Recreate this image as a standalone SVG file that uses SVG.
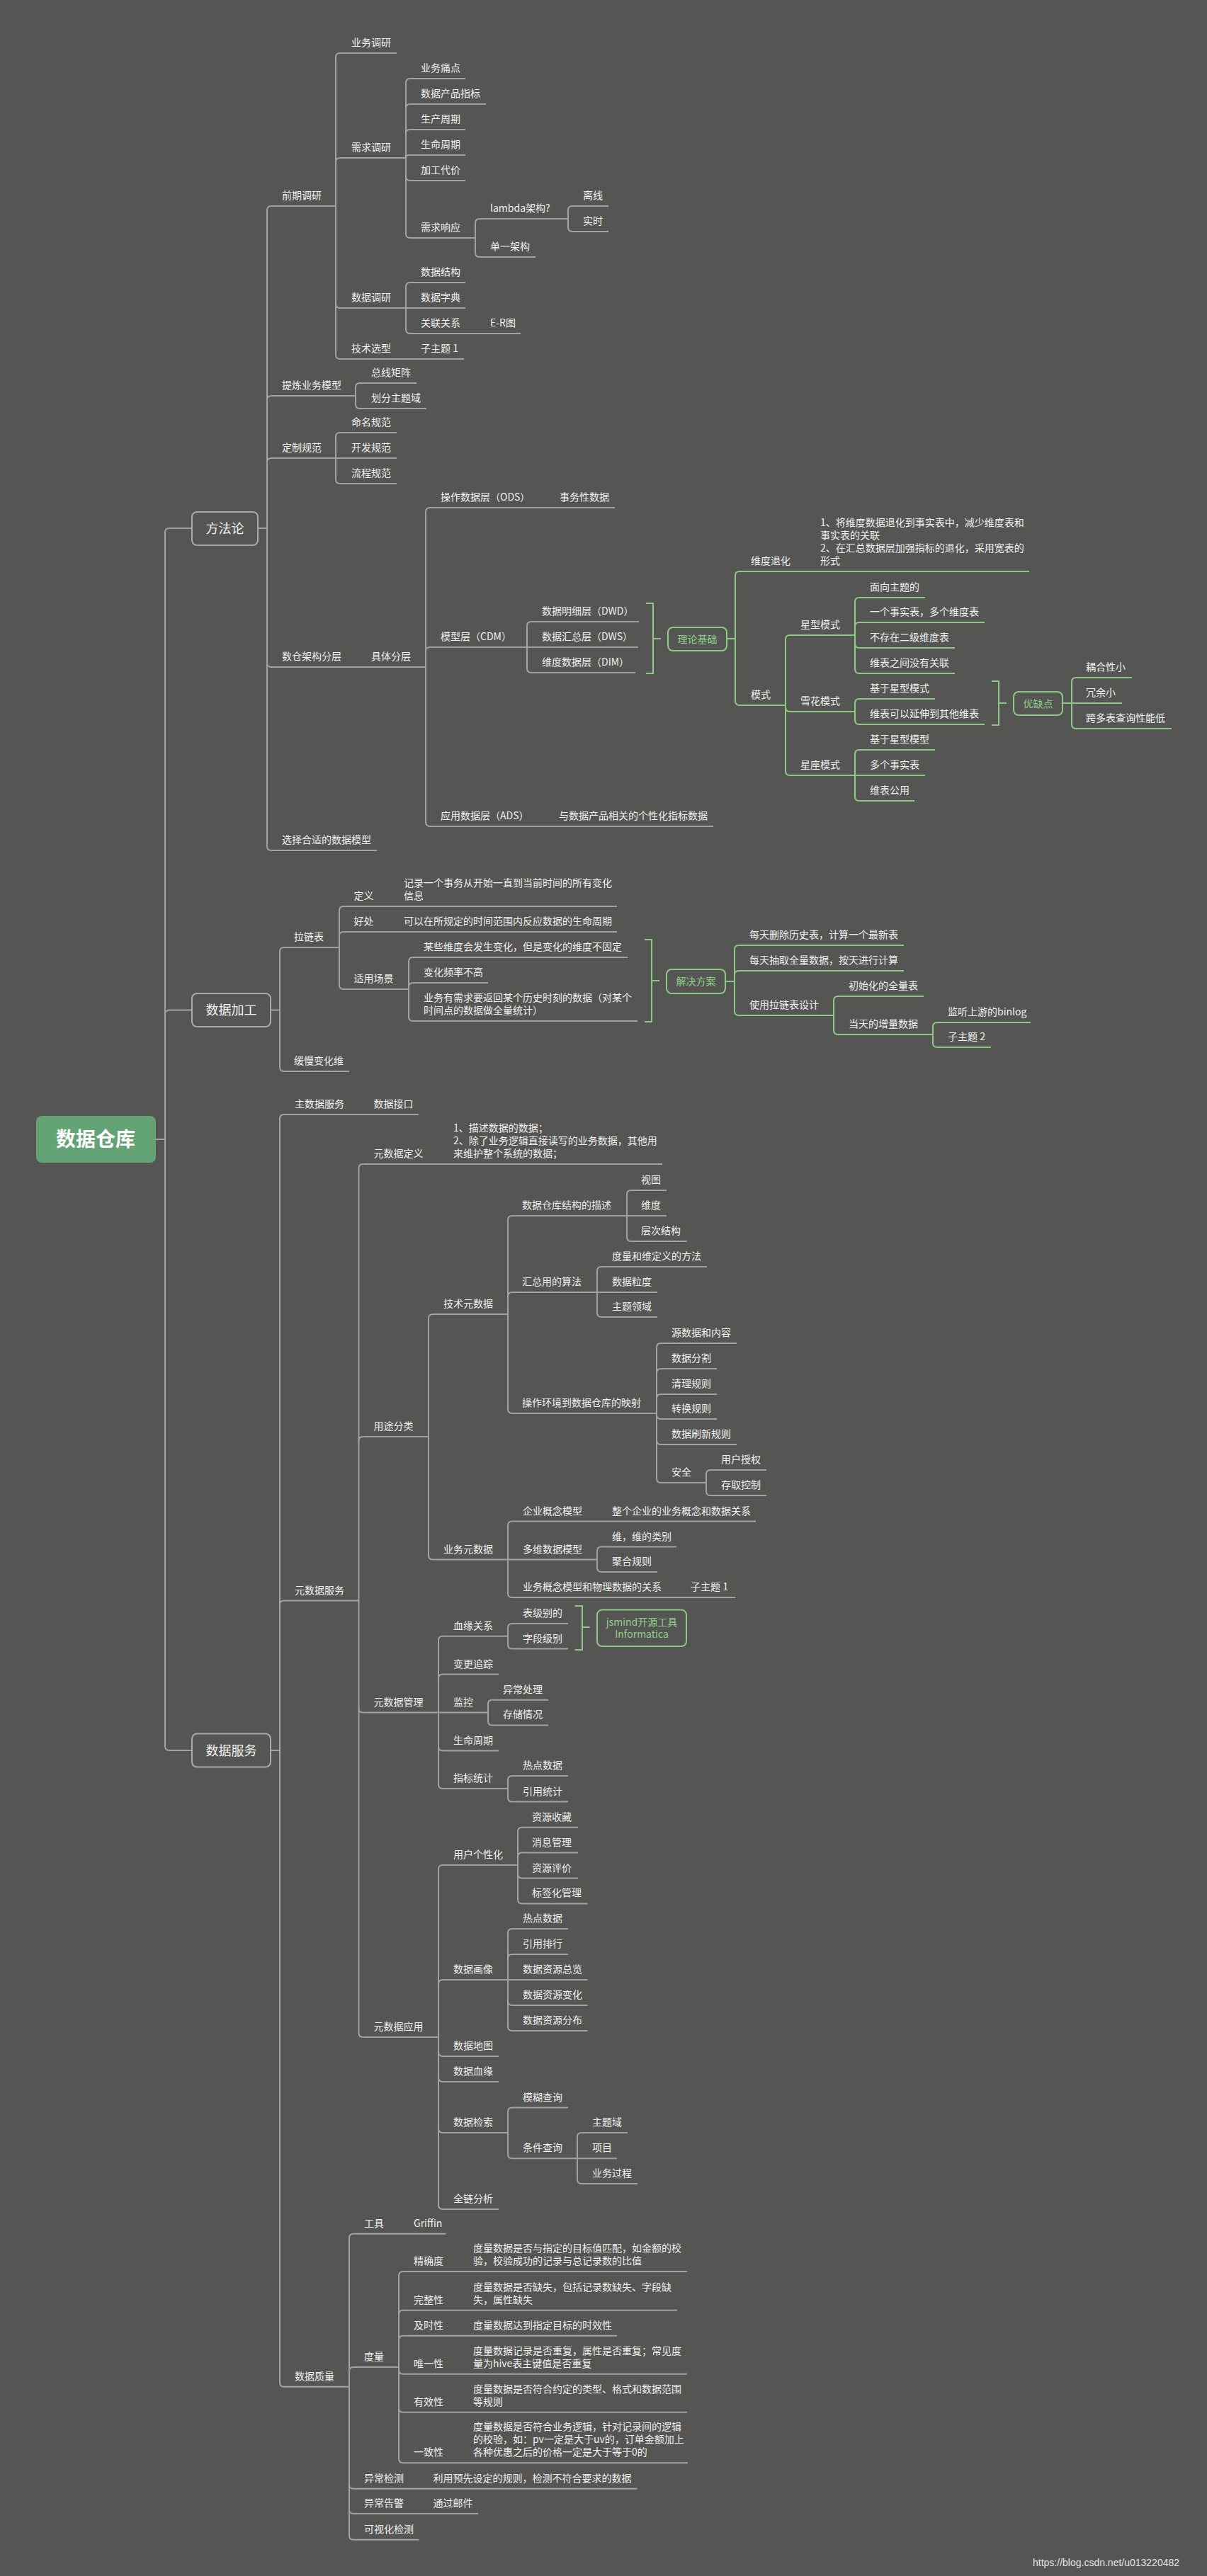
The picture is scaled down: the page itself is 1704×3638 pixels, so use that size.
<svg xmlns="http://www.w3.org/2000/svg" width="1704" height="3638" viewBox="0 0 1704 3638">
<style>
.t{font-family:"Noto Sans CJK SC","Liberation Sans",sans-serif;font-size:14px;fill:#f0f0f0}
.gt{font-family:"Noto Sans CJK SC","Liberation Sans",sans-serif;font-size:14px;fill:#8fd088}
.mt{font-family:"Noto Sans CJK SC","Liberation Sans",sans-serif;font-size:18px;fill:#f0f0f0;text-anchor:middle}
.root{font-family:"Noto Sans CJK SC","Liberation Sans",sans-serif;font-size:28px;font-weight:bold;fill:#ffffff;text-anchor:middle}
.ln{fill:none;stroke:#a2a2a2;stroke-width:2}
.gn{fill:none;stroke:#8cc984;stroke-width:2}
.mb{fill:#555653;stroke:#a9a9a9;stroke-width:2}
.gb{fill:#555653;stroke:#8cc984;stroke-width:2}
.wm{font-family:"Liberation Sans",sans-serif;font-size:14px;fill:#e4e4e4}
</style>
<rect x="0" y="0" width="1704" height="3638" fill="#555653"/>

<g id="connectors">
<path class="ln" d="M220 1609H233M233 1609V752Q233 746 239 746H271M233 1609V1432.5Q233 1426.5 239 1426.5H271M233 1609V2466Q233 2472 239 2472H271"/>
<path class="ln" d="M364 746H377M377 746V297Q377 291 383 291M377 746V565Q377 559 383 559M377 746V653Q377 647 383 647M377 746V936Q377 942 383 942M377 746V1195Q377 1201 383 1201"/>
<path class="ln" d="M474 291V81Q474 75 480 75M474 291V229Q474 223 480 223M474 291V429Q474 435 480 435M474 291V501Q474 507 480 507"/>
<path class="ln" d="M573 223V117Q573 111 579 111M573 223V153Q573 147 579 147M573 223V189Q573 183 579 183M573 223Q573 219 577 219M573 223V249Q573 255 579 255M573 223V330Q573 336 579 336"/>
<path class="ln" d="M671 336V315Q671 309 677 309M671 336V357Q671 363 677 363"/>
<path class="ln" d="M802 309V297Q802 291 808 291M802 309V321Q802 327 808 327"/>
<path class="ln" d="M573 435V405Q573 399 579 399M573 435V465Q573 471 579 471"/>
<path class="ln" d="M502 559V547Q502 541 508 541M502 559V571Q502 577 508 577"/>
<path class="ln" d="M474 647V617Q474 611 480 611M474 647V677Q474 683 480 683"/>
<path class="ln" d="M601 942V723Q601 717 607 717M601 942V920Q601 914 607 914M601 942V1161Q601 1167 607 1167"/>
<path class="ln" d="M744 914V884Q744 878 750 878M744 914V944Q744 950 750 950"/>
<path class="gn" d="M912 852H922V951H912M922 902H933"/>
<path class="gn" d="M1026 902H1038M1038 902V813Q1038 807 1044 807M1038 902V990Q1038 996 1044 996"/>
<path class="gn" d="M1109 996V903Q1109 897 1115 897M1109 996V999Q1109 1005 1115 1005M1109 996V1089Q1109 1095 1115 1095"/>
<path class="gn" d="M1207 897V850Q1207 844 1213 844M1207 897V885Q1207 879 1213 879M1207 897V909Q1207 915 1213 915M1207 897V945Q1207 951 1213 951"/>
<path class="gn" d="M1207 1005V993Q1207 987 1213 987M1207 1005V1017Q1207 1023 1213 1023"/>
<path class="gn" d="M1400 962H1410V1024H1400M1410 993H1421"/>
<path class="gn" d="M1500 993H1513M1513 993V963Q1513 957 1519 957M1513 993V1023Q1513 1029 1519 1029"/>
<path class="gn" d="M1207 1095V1065Q1207 1059 1213 1059M1207 1095V1125Q1207 1131 1213 1131"/>
<path class="ln" d="M382 1426.5H395M395 1426.5V1344Q395 1338 401 1338M395 1426.5V1507Q395 1513 401 1513"/>
<path class="ln" d="M479 1338V1286Q479 1280 485 1280M479 1338V1322Q479 1316 485 1316M479 1338V1391Q479 1397 485 1397"/>
<path class="ln" d="M577 1397V1358Q577 1352 583 1352M577 1397V1394Q577 1388 583 1388M577 1397V1436Q577 1442 583 1442"/>
<path class="gn" d="M910 1327H920V1443H910M920 1385H931"/>
<path class="gn" d="M1024 1386H1037M1037 1386V1341Q1037 1335 1043 1335M1037 1386V1377Q1037 1371 1043 1371M1037 1386V1428Q1037 1434 1043 1434"/>
<path class="gn" d="M1177 1434V1413Q1177 1407 1183 1407M1177 1434V1455Q1177 1461 1183 1461"/>
<path class="gn" d="M1317 1461V1450Q1317 1444 1323 1444M1317 1461V1473Q1317 1479 1323 1479"/>
<path class="ln" d="M382 2472H395M395 2472V1580Q395 1574 401 1574M395 2472V2266.5Q395 2260.5 401 2260.5M395 2472V3364.7Q395 3370.7 401 3370.7"/>
<path class="ln" d="M506.5 2260.5V1650Q506.5 1644 512.5 1644M506.5 2260.5V2035Q506.5 2029 512.5 2029M506.5 2260.5V2412.6Q506.5 2418.6 512.5 2418.6M506.5 2260.5V2871Q506.5 2877 512.5 2877"/>
<path class="ln" d="M605 2029V1862Q605 1856 611 1856M605 2029V2196.5Q605 2202.5 611 2202.5"/>
<path class="ln" d="M717 1856V1723Q717 1717 723 1717M717 1856V1831Q717 1825 723 1825M717 1856V1990Q717 1996 723 1996"/>
<path class="ln" d="M885 1717V1687Q885 1681 891 1681M885 1717V1747Q885 1753 891 1753"/>
<path class="ln" d="M843 1825V1795Q843 1789 849 1789M843 1825V1854Q843 1860 849 1860"/>
<path class="ln" d="M927 1996V1903Q927 1897 933 1897M927 1996V1939Q927 1933 933 1933M927 1996V1975Q927 1969 933 1969M927 1996V1998Q927 2004 933 2004M927 1996V2034Q927 2040 933 2040M927 1996V2088Q927 2094 933 2094"/>
<path class="ln" d="M997 2094V2082Q997 2076 1003 2076M997 2094V2106Q997 2112 1003 2112"/>
<path class="ln" d="M717 2202.5V2154.6Q717 2148.6 723 2148.6M717 2202.5V2250Q717 2256 723 2256"/>
<path class="ln" d="M843 2202.5V2190.6Q843 2184.6 849 2184.6M843 2202.5V2214Q843 2220 849 2220"/>
<path class="ln" d="M619 2418.6V2316.7Q619 2310.7 625 2310.7M619 2418.6V2370.6Q619 2364.6 625 2364.6M619 2418.6V2466.5Q619 2472.5 625 2472.5M619 2418.6V2520Q619 2526 625 2526"/>
<path class="ln" d="M717 2310.7V2299Q717 2293 723 2293M717 2310.7V2322.6Q717 2328.6 723 2328.6"/>
<path class="gn" d="M811.6 2268H822V2330H811.6M822 2298H832.6"/>
<path class="ln" d="M689 2418.6V2406.7Q689 2400.7 695 2400.7M689 2418.6V2430.4Q689 2436.4 695 2436.4"/>
<path class="ln" d="M717 2526V2514Q717 2508 723 2508M717 2526V2538.6Q717 2544.6 723 2544.6"/>
<path class="ln" d="M619 2877V2640Q619 2634 625 2634M619 2877V2802Q619 2796 625 2796M619 2877V2898Q619 2904 625 2904M619 2877V2934Q619 2940 625 2940M619 2877V3006Q619 3012 625 3012M619 2877V3114Q619 3120 625 3120"/>
<path class="ln" d="M731 2634V2586.7Q731 2580.7 737 2580.7M731 2634V2622.6Q731 2616.6 737 2616.6M731 2634V2646.5Q731 2652.5 737 2652.5M731 2634V2682.4Q731 2688.4 737 2688.4"/>
<path class="ln" d="M717 2796V2730Q717 2724 723 2724M717 2796V2766Q717 2760 723 2760M717 2796V2826Q717 2832 723 2832M717 2796V2862Q717 2868 723 2868"/>
<path class="ln" d="M717 3012V2982.6Q717 2976.6 723 2976.6M717 3012V3042.3Q717 3048.3 723 3048.3"/>
<path class="ln" d="M815 3048.3V3018Q815 3012 821 3012M815 3048.3V3078Q815 3084 821 3084"/>
<path class="ln" d="M493 3370.7V3160.7Q493 3154.7 499 3154.7M493 3370.7V3349Q493 3343 499 3343M493 3370.7V3508.7Q493 3514.7 499 3514.7M493 3370.7V3544Q493 3550 499 3550M493 3370.7V3580.7Q493 3586.7 499 3586.7"/>
<path class="ln" d="M563 3343V3214Q563 3208 569 3208M563 3343V3268.7Q563 3262.7 569 3262.7M563 3343V3304.7Q563 3298.7 569 3298.7M563 3343V3346.7Q563 3352.7 569 3352.7M563 3343V3400.7Q563 3406.7 569 3406.7M563 3343V3472.3Q563 3478.3 569 3478.3"/>
</g>

<g id="n-root"><rect x="51" y="1576" width="169" height="66" rx="8" fill="#63a375"/><text x="135" y="1619" class="root">数据仓库</text></g>
<g id="n-ffl"><rect x="271" y="723" width="93" height="47" rx="7" class="mb"/><text x="317.5" y="753" class="mt">方法论</text></g>
<g id="n-sjjg"><rect x="271" y="1403" width="111" height="47" rx="7" class="mb"/><text x="326.5" y="1433" class="mt">数据加工</text></g>
<g id="n-sjfw"><rect x="271" y="2448.5" width="111" height="47" rx="7" class="mb"/><text x="326.5" y="2478.5" class="mt">数据服务</text></g>

<!-- 方法论 -->
<g id="n-qqdy"><text class="t" x="398" y="281">前期调研</text><path class="ln" d="M383 291H474"/></g>
<g id="n-ywdy"><text class="t" x="496" y="65">业务调研</text><path class="ln" d="M480 75H560"/></g>
<g id="n-xqdy"><text class="t" x="496" y="213">需求调研</text><path class="ln" d="M480 223H573"/></g>
<g id="n-ywtd"><text class="t" x="594" y="101">业务痛点</text><path class="ln" d="M579 111H657"/></g>
<g id="n-sjcpzb"><text class="t" x="594" y="137">数据产品指标</text><path class="ln" d="M579 147H686"/></g>
<g id="n-sczq"><text class="t" x="594" y="173">生产周期</text><path class="ln" d="M579 183H657"/></g>
<g id="n-smzq"><text class="t" x="594" y="209">生命周期</text><path class="ln" d="M577 219H657"/></g>
<g id="n-jgdj"><text class="t" x="594" y="245">加工代价</text><path class="ln" d="M579 255H657"/></g>
<g id="n-xqxy"><text class="t" x="594" y="326">需求响应</text><path class="ln" d="M579 336H671"/></g>
<g id="n-lambda"><text class="t" x="692" y="299">lambda架构?</text><path class="ln" d="M677 309H802"/></g>
<g id="n-lx"><text class="t" x="823" y="281">离线</text><path class="ln" d="M808 291H859"/></g>
<g id="n-ss"><text class="t" x="823" y="317">实时</text><path class="ln" d="M808 327H859"/></g>
<g id="n-dyjg"><text class="t" x="692" y="353">单一架构</text><path class="ln" d="M677 363H756"/></g>
<g id="n-sjdy"><text class="t" x="496" y="425">数据调研</text><path class="ln" d="M480 435H573"/></g>
<g id="n-sjjg2"><text class="t" x="594" y="389">数据结构</text><path class="ln" d="M579 399H657"/></g>
<g id="n-sjzd"><text class="t" x="594" y="425">数据字典</text><path class="ln" d="M573 435H657"/></g>
<g id="n-glgx"><text class="t" x="594" y="461">关联关系</text><path class="ln" d="M579 471H671"/></g>
<g id="n-er"><text class="t" x="692" y="461">E-R图</text><path class="ln" d="M671 471H735"/></g>
<g id="n-jsxx"><text class="t" x="496" y="497">技术选型</text><path class="ln" d="M480 507H573"/></g>
<g id="n-zzt1a"><text class="t" x="594" y="497">子主题 1</text><path class="ln" d="M573 507H655"/></g>
<g id="n-tlywmx"><text class="t" x="398" y="549">提炼业务模型</text><path class="ln" d="M383 559H502"/></g>
<g id="n-zxjz"><text class="t" x="524" y="531">总线矩阵</text><path class="ln" d="M508 541H588"/></g>
<g id="n-hfztj"><text class="t" x="524" y="567">划分主题域</text><path class="ln" d="M508 577H602"/></g>
<g id="n-dzgf"><text class="t" x="398" y="637">定制规范</text><path class="ln" d="M383 647H474"/></g>
<g id="n-mmgf"><text class="t" x="496" y="601">命名规范</text><path class="ln" d="M480 611H560"/></g>
<g id="n-kfgf"><text class="t" x="496" y="637">开发规范</text><path class="ln" d="M474 647H560"/></g>
<g id="n-lcgf"><text class="t" x="496" y="673">流程规范</text><path class="ln" d="M480 683H560"/></g>
<g id="n-scjgfc"><text class="t" x="398" y="932">数仓架构分层</text><path class="ln" d="M383 942H502"/></g>
<g id="n-jtfc"><text class="t" x="524" y="932">具体分层</text><path class="ln" d="M502 942H601"/></g>
<g id="n-ods"><text class="t" x="622" y="707">操作数据层（ODS）</text><path class="ln" d="M607 717H769"/></g>
<g id="n-swxsj"><text class="t" x="790" y="707">事务性数据</text><path class="ln" d="M769 717H868"/></g>
<g id="n-cdm"><text class="t" x="622" y="904">模型层（CDM）</text><path class="ln" d="M607 914H744"/></g>
<g id="n-dwd"><text class="t" x="765" y="868">数据明细层（DWD）</text><path class="ln" d="M750 878H902"/></g>
<g id="n-dws"><text class="t" x="765" y="904">数据汇总层（DWS）</text><path class="ln" d="M744 914H901"/></g>
<g id="n-dim"><text class="t" x="765" y="940">维度数据层（DIM）</text><path class="ln" d="M750 950H897"/></g>
<g id="n-ads"><text class="t" x="622" y="1157">应用数据层（ADS）</text><path class="ln" d="M607 1167H768"/></g>
<g id="n-adsd"><text class="t" x="789" y="1157">与数据产品相关的个性化指标数据</text><path class="ln" d="M768 1167H1007"/></g>
<g id="n-xzhs"><text class="t" x="398" y="1191">选择合适的数据模型</text><path class="ln" d="M383 1201H532"/></g>

<g id="n-lljc"><rect x="943" y="886" width="83" height="33" rx="7" class="gb"/><text class="gt" x="984.5" y="907.5" text-anchor="middle">理论基础</text></g>
<g id="n-wdth"><text class="t" x="1060" y="797">维度退化</text><path class="gn" d="M1044 807H1137"/></g>
<g id="n-wdthd"><text class="t" x="1158" y="743">1、将维度数据退化到事实表中，减少维度表和<tspan x="1158" dy="18">事实表的关联</tspan><tspan x="1158" dy="18">2、在汇总数据层加强指标的退化，采用宽表的</tspan><tspan x="1158" dy="18">形式</tspan></text><path class="gn" d="M1137 807H1453"/></g>
<g id="n-ms"><text class="t" x="1060" y="986">模式</text><path class="gn" d="M1044 996H1109"/></g>
<g id="n-xxms"><text class="t" x="1130" y="887">星型模式</text><path class="gn" d="M1115 897H1207"/></g>
<g id="n-mxztd"><text class="t" x="1228" y="834">面向主题的</text><path class="gn" d="M1213 844H1306"/></g>
<g id="n-ygsst"><text class="t" x="1228" y="869">一个事实表，多个维度表</text><path class="gn" d="M1213 879H1390"/></g>
<g id="n-bczej"><text class="t" x="1228" y="905">不存在二级维度表</text><path class="gn" d="M1213 915H1348"/></g>
<g id="n-wbzj"><text class="t" x="1228" y="941">维表之间没有关联</text><path class="gn" d="M1213 951H1348"/></g>
<g id="n-xhms"><text class="t" x="1130" y="995">雪花模式</text><path class="gn" d="M1115 1005H1207"/></g>
<g id="n-jyxxms"><text class="t" x="1228" y="977">基于星型模式</text><path class="gn" d="M1213 987H1320"/></g>
<g id="n-wbkyys"><text class="t" x="1228" y="1013">维表可以延伸到其他维表</text><path class="gn" d="M1213 1023H1390"/></g>
<g id="n-yqd"><rect x="1431" y="977" width="69" height="33" rx="7" class="gb"/><text class="gt" x="1465.5" y="998.5" text-anchor="middle">优缺点</text></g>
<g id="n-ohxx"><text class="t" x="1533" y="947">耦合性小</text><path class="gn" d="M1519 957H1598"/></g>
<g id="n-ryx"><text class="t" x="1533" y="983">冗余小</text><path class="gn" d="M1513 993H1584"/></g>
<g id="n-kdb"><text class="t" x="1533" y="1019">跨多表查询性能低</text><path class="gn" d="M1519 1029H1654"/></g>
<g id="n-xzms"><text class="t" x="1130" y="1085">星座模式</text><path class="gn" d="M1115 1095H1207"/></g>
<g id="n-jyxxmx"><text class="t" x="1228" y="1049">基于星型模型</text><path class="gn" d="M1213 1059H1320"/></g>
<g id="n-dgsst"><text class="t" x="1228" y="1085">多个事实表</text><path class="gn" d="M1207 1095H1306"/></g>
<g id="n-wbgy"><text class="t" x="1228" y="1121">维表公用</text><path class="gn" d="M1213 1131H1291"/></g>

<!-- 数据加工 -->
<g id="n-llb"><text class="t" x="415" y="1328">拉链表</text><path class="ln" d="M401 1338H479"/></g>
<g id="n-dy"><text class="t" x="499.5" y="1270">定义</text><path class="ln" d="M485 1280H549"/></g>
<g id="n-dyd"><text class="t" x="570" y="1252">记录一个事务从开始一直到当前时间的所有变化<tspan x="570" dy="18">信息</tspan></text><path class="ln" d="M549 1280H871"/></g>
<g id="n-hc"><text class="t" x="499.5" y="1306">好处</text><path class="ln" d="M485 1316H549"/></g>
<g id="n-hcd"><text class="t" x="570" y="1306">可以在所规定的时间范围内反应数据的生命周期</text><path class="ln" d="M549 1316H871"/></g>
<g id="n-sycj"><text class="t" x="499.5" y="1387">适用场景</text><path class="ln" d="M485 1397H577"/></g>
<g id="n-mxwd"><text class="t" x="598" y="1342">某些维度会发生变化，但是变化的维度不固定</text><path class="ln" d="M583 1352H886"/></g>
<g id="n-bhpl"><text class="t" x="598" y="1378">变化频率不高</text><path class="ln" d="M583 1388H689"/></g>
<g id="n-ywyxq"><text class="t" x="598" y="1414">业务有需求要返回某个历史时刻的数据（对某个<tspan x="598" dy="18">时间点的数据做全量统计）</tspan></text><path class="ln" d="M583 1442H900"/></g>
<g id="n-jjfa"><rect x="941" y="1369" width="83" height="34" rx="7" class="gb"/><text class="gt" x="982.5" y="1391" text-anchor="middle">解决方案</text></g>
<g id="n-mtsc"><text class="t" x="1058" y="1325">每天删除历史表，计算一个最新表</text><path class="gn" d="M1043 1335H1276"/></g>
<g id="n-mtcq"><text class="t" x="1058" y="1361">每天抽取全量数据，按天进行计算</text><path class="gn" d="M1043 1371H1276"/></g>
<g id="n-syllb"><text class="t" x="1058" y="1424">使用拉链表设计</text><path class="gn" d="M1043 1434H1177"/></g>
<g id="n-cshqlb"><text class="t" x="1198" y="1397">初始化的全量表</text><path class="gn" d="M1183 1407H1304"/></g>
<g id="n-dtzl"><text class="t" x="1198" y="1451">当天的增量数据</text><path class="gn" d="M1183 1461H1317"/></g>
<g id="n-binlog"><text class="t" x="1338" y="1434">监听上游的binlog</text><path class="gn" d="M1323 1444H1455"/></g>
<g id="n-zzt2"><text class="t" x="1338" y="1469">子主题 2</text><path class="gn" d="M1323 1479H1399"/></g>
<g id="n-hmbhw"><text class="t" x="415" y="1503">缓慢变化维</text><path class="ln" d="M401 1513H493"/></g>

<!-- 数据服务 -->
<g id="n-zsjfw"><text class="t" x="416" y="1564">主数据服务</text><path class="ln" d="M401 1574H506"/></g>
<g id="n-sjjk"><text class="t" x="527.5" y="1564">数据接口</text><path class="ln" d="M506 1574H591"/></g>
<g id="n-ysjfw"><text class="t" x="416" y="2250.5">元数据服务</text><path class="ln" d="M401 2260.5H506.5"/></g>
<g id="n-ysjdy"><text class="t" x="527.5" y="1634">元数据定义</text><path class="ln" d="M512.5 1644H619"/></g>
<g id="n-ysjdyd"><text class="t" x="640" y="1598">1、描述数据的数据；<tspan x="640" dy="18">2、除了业务逻辑直接读写的业务数据，其他用</tspan><tspan x="640" dy="18">来维护整个系统的数据；</tspan></text><path class="ln" d="M619 1644H935"/></g>
<g id="n-ytfl"><text class="t" x="527.5" y="2019">用途分类</text><path class="ln" d="M512.5 2029H605"/></g>
<g id="n-jsysj"><text class="t" x="626" y="1846">技术元数据</text><path class="ln" d="M611 1856H717"/></g>
<g id="n-sjckjg"><text class="t" x="737" y="1707">数据仓库结构的描述</text><path class="ln" d="M723 1717H885"/></g>
<g id="n-st"><text class="t" x="905" y="1671">视图</text><path class="ln" d="M891 1681H941"/></g>
<g id="n-wd"><text class="t" x="905" y="1707">维度</text><path class="ln" d="M885 1717H941"/></g>
<g id="n-ccjg"><text class="t" x="905" y="1743">层次结构</text><path class="ln" d="M891 1753H970"/></g>
<g id="n-hzydsf"><text class="t" x="737" y="1815">汇总用的算法</text><path class="ln" d="M723 1825H843"/></g>
<g id="n-dlhw"><text class="t" x="864" y="1779">度量和维定义的方法</text><path class="ln" d="M849 1789H998"/></g>
<g id="n-sjld"><text class="t" x="864" y="1815">数据粒度</text><path class="ln" d="M843 1825H928"/></g>
<g id="n-ztly"><text class="t" x="864" y="1850">主题领域</text><path class="ln" d="M849 1860H928"/></g>
<g id="n-czhj"><text class="t" x="737" y="1986">操作环境到数据仓库的映射</text><path class="ln" d="M723 1996H927"/></g>
<g id="n-ysjhnr"><text class="t" x="948" y="1887">源数据和内容</text><path class="ln" d="M933 1897H1040"/></g>
<g id="n-sjfg"><text class="t" x="948" y="1923">数据分割</text><path class="ln" d="M933 1933H1012"/></g>
<g id="n-qlgz"><text class="t" x="948" y="1959">清理规则</text><path class="ln" d="M933 1969H1012"/></g>
<g id="n-zhgz"><text class="t" x="948" y="1994">转换规则</text><path class="ln" d="M933 2004H1012"/></g>
<g id="n-sjsx"><text class="t" x="948" y="2030">数据刷新规则</text><path class="ln" d="M933 2040H1040"/></g>
<g id="n-aq"><text class="t" x="948" y="2084">安全</text><path class="ln" d="M933 2094H997"/></g>
<g id="n-yhsq"><text class="t" x="1018" y="2066">用户授权</text><path class="ln" d="M1003 2076H1082"/></g>
<g id="n-cqkz"><text class="t" x="1018" y="2102">存取控制</text><path class="ln" d="M1003 2112H1082"/></g>
<g id="n-ywysj"><text class="t" x="626" y="2192.5">业务元数据</text><path class="ln" d="M611 2202.5H717"/></g>
<g id="n-qygn"><text class="t" x="738" y="2138.6">企业概念模型</text><path class="ln" d="M723 2148.6H843"/></g>
<g id="n-qygnd"><text class="t" x="864" y="2138.6">整个企业的业务概念和数据关系</text><path class="ln" d="M843 2148.6H1067"/></g>
<g id="n-dwsjmx"><text class="t" x="738" y="2192.5">多维数据模型</text><path class="ln" d="M717 2202.5H843"/></g>
<g id="n-wwdlb"><text class="t" x="864" y="2174.6">维，维的类别</text><path class="ln" d="M849 2184.6H955"/></g>
<g id="n-jhgz"><text class="t" x="864" y="2210">聚合规则</text><path class="ln" d="M849 2220H928"/></g>
<g id="n-ywgnmx"><text class="t" x="738" y="2246">业务概念模型和物理数据的关系</text><path class="ln" d="M723 2256H954"/></g>
<g id="n-zzt1b"><text class="t" x="975" y="2246">子主题 1</text><path class="ln" d="M954 2256H1038"/></g>
<g id="n-ysjgl"><text class="t" x="527.5" y="2408.6">元数据管理</text><path class="ln" d="M512.5 2418.6H619"/></g>
<g id="n-xygx"><text class="t" x="640" y="2300.7">血缘关系</text><path class="ln" d="M625 2310.7H717"/></g>
<g id="n-bjbd"><text class="t" x="738" y="2283">表级别的</text><path class="ln" d="M723 2293H802"/></g>
<g id="n-zdjb"><text class="t" x="738" y="2318.6">字段级别</text><path class="ln" d="M723 2328.6H802"/></g>
<g id="n-jsmind"><rect x="843" y="2273.6" width="126" height="51.4" rx="7" class="gb"/><text class="gt" x="906" y="2295.7" text-anchor="middle">jsmind开源工具<tspan x="906" dy="17.2">Informatica</tspan></text></g>
<g id="n-bgzz"><text class="t" x="640" y="2354.6">变更追踪</text><path class="ln" d="M625 2364.6H704"/></g>
<g id="n-jk"><text class="t" x="640" y="2408.6">监控</text><path class="ln" d="M619 2418.6H689"/></g>
<g id="n-yccl"><text class="t" x="710" y="2390.7">异常处理</text><path class="ln" d="M695 2400.7H774"/></g>
<g id="n-ccqk"><text class="t" x="710" y="2426.4">存储情况</text><path class="ln" d="M695 2436.4H774"/></g>
<g id="n-smzq2"><text class="t" x="640" y="2462.5">生命周期</text><path class="ln" d="M625 2472.5H704"/></g>
<g id="n-zbtj"><text class="t" x="640" y="2516">指标统计</text><path class="ln" d="M625 2526H717"/></g>
<g id="n-rdsj1"><text class="t" x="738" y="2498">热点数据</text><path class="ln" d="M723 2508H802"/></g>
<g id="n-yytj"><text class="t" x="738" y="2534.6">引用统计</text><path class="ln" d="M723 2544.6H802"/></g>
<g id="n-ysjyy"><text class="t" x="527.5" y="2867">元数据应用</text><path class="ln" d="M512.5 2877H619"/></g>
<g id="n-yhgxh"><text class="t" x="640" y="2624">用户个性化</text><path class="ln" d="M625 2634H731"/></g>
<g id="n-zysc"><text class="t" x="751" y="2570.7">资源收藏</text><path class="ln" d="M737 2580.7H816"/></g>
<g id="n-xxgl"><text class="t" x="751" y="2606.6">消息管理</text><path class="ln" d="M737 2616.6H816"/></g>
<g id="n-zypj"><text class="t" x="751" y="2642.5">资源评价</text><path class="ln" d="M737 2652.5H816"/></g>
<g id="n-bqhgl"><text class="t" x="751" y="2678.4">标签化管理</text><path class="ln" d="M737 2688.4H829.5"/></g>
<g id="n-sjhx"><text class="t" x="640" y="2786">数据画像</text><path class="ln" d="M625 2796H717"/></g>
<g id="n-rdsj2"><text class="t" x="738" y="2714">热点数据</text><path class="ln" d="M723 2724H802"/></g>
<g id="n-yyph"><text class="t" x="738" y="2750">引用排行</text><path class="ln" d="M723 2760H802"/></g>
<g id="n-sjzyzl"><text class="t" x="738" y="2786">数据资源总览</text><path class="ln" d="M717 2796H829.5"/></g>
<g id="n-sjzybh"><text class="t" x="738" y="2822">数据资源变化</text><path class="ln" d="M723 2832H829.5"/></g>
<g id="n-sjzyfb"><text class="t" x="738" y="2858">数据资源分布</text><path class="ln" d="M723 2868H829.5"/></g>
<g id="n-sjdt"><text class="t" x="640" y="2894">数据地图</text><path class="ln" d="M625 2904H704"/></g>
<g id="n-sjxy"><text class="t" x="640" y="2930">数据血缘</text><path class="ln" d="M625 2940H704"/></g>
<g id="n-sjjs"><text class="t" x="640" y="3002">数据检索</text><path class="ln" d="M625 3012H717"/></g>
<g id="n-mhcx"><text class="t" x="738" y="2966.6">模糊查询</text><path class="ln" d="M723 2976.6H802"/></g>
<g id="n-tjcx"><text class="t" x="738" y="3038.3">条件查询</text><path class="ln" d="M723 3048.3H815"/></g>
<g id="n-ztj"><text class="t" x="836" y="3002">主题域</text><path class="ln" d="M821 3012H886"/></g>
<g id="n-xm"><text class="t" x="836" y="3038.3">项目</text><path class="ln" d="M815 3048.3H871"/></g>
<g id="n-ywgc"><text class="t" x="836" y="3074">业务过程</text><path class="ln" d="M821 3084H900"/></g>
<g id="n-qlfx"><text class="t" x="640" y="3110">全链分析</text><path class="ln" d="M625 3120H704"/></g>
<g id="n-sjzl"><text class="t" x="416" y="3360.7">数据质量</text><path class="ln" d="M401 3370.7H493"/></g>
<g id="n-gj"><text class="t" x="514" y="3144.7">工具</text><path class="ln" d="M499 3154.7H563"/></g>
<g id="n-griffin"><text class="t" x="584" y="3144.7">Griffin</text><path class="ln" d="M563 3154.7H629.5"/></g>
<g id="n-dl"><text class="t" x="514" y="3333">度量</text><path class="ln" d="M499 3343H563"/></g>
<g id="n-jqd"><text class="t" x="584" y="3198">精确度</text><path class="ln" d="M569 3208H647"/></g>
<g id="n-jqdd"><text class="t" x="668" y="3180">度量数据是否与指定的目标值匹配，如金额的校<tspan x="668" dy="18">验，校验成功的记录与总记录数的比值</tspan></text><path class="ln" d="M647 3208H970"/></g>
<g id="n-wzx"><text class="t" x="584" y="3252.7">完整性</text><path class="ln" d="M569 3262.7H647"/></g>
<g id="n-wzxd"><text class="t" x="668" y="3234.7">度量数据是否缺失，包括记录数缺失、字段缺<tspan x="668" dy="18">失，属性缺失</tspan></text><path class="ln" d="M647 3262.7H956"/></g>
<g id="n-jsx"><text class="t" x="584" y="3288.7">及时性</text><path class="ln" d="M569 3298.7H647"/></g>
<g id="n-jsxd"><text class="t" x="668" y="3288.7">度量数据达到指定目标的时效性</text><path class="ln" d="M647 3298.7H871"/></g>
<g id="n-wyx"><text class="t" x="584" y="3342.7">唯一性</text><path class="ln" d="M569 3352.7H647"/></g>
<g id="n-wyxd"><text class="t" x="668" y="3324.7">度量数据记录是否重复，属性是否重复；常见度<tspan x="668" dy="18">量为hive表主键值是否重复</tspan></text><path class="ln" d="M647 3352.7H970"/></g>
<g id="n-yxx"><text class="t" x="584" y="3396.7">有效性</text><path class="ln" d="M569 3406.7H647"/></g>
<g id="n-yxxd"><text class="t" x="668" y="3378.7">度量数据是否符合约定的类型、格式和数据范围<tspan x="668" dy="18">等规则</tspan></text><path class="ln" d="M647 3406.7H970"/></g>
<g id="n-yzx"><text class="t" x="584" y="3468.3">一致性</text><path class="ln" d="M569 3478.3H647"/></g>
<g id="n-yzxd"><text class="t" x="668" y="3432.3">度量数据是否符合业务逻辑，针对记录间的逻辑<tspan x="668" dy="18">的校验，如：pv一定是大于uv的，订单金额加上</tspan><tspan x="668" dy="18">各种优惠之后的价格一定是大于等于0的</tspan></text><path class="ln" d="M647 3478.3H971"/></g>
<g id="n-ycjc"><text class="t" x="514" y="3504.7">异常检测</text><path class="ln" d="M499 3514.7H590"/></g>
<g id="n-ycjcd"><text class="t" x="611.6" y="3504.7">利用预先设定的规则，检测不符合要求的数据</text><path class="ln" d="M590 3514.7H899.5"/></g>
<g id="n-ycgj"><text class="t" x="514" y="3540">异常告警</text><path class="ln" d="M499 3550H590"/></g>
<g id="n-tgyj"><text class="t" x="611.6" y="3540">通过邮件</text><path class="ln" d="M590 3550H675"/></g>
<g id="n-kshjc"><text class="t" x="514" y="3576.7">可视化检测</text><path class="ln" d="M499 3586.7H591.5"/></g>

<text class="wm" x="1458" y="3624">https://blog.csdn.net/u013220482</text>
</svg>
